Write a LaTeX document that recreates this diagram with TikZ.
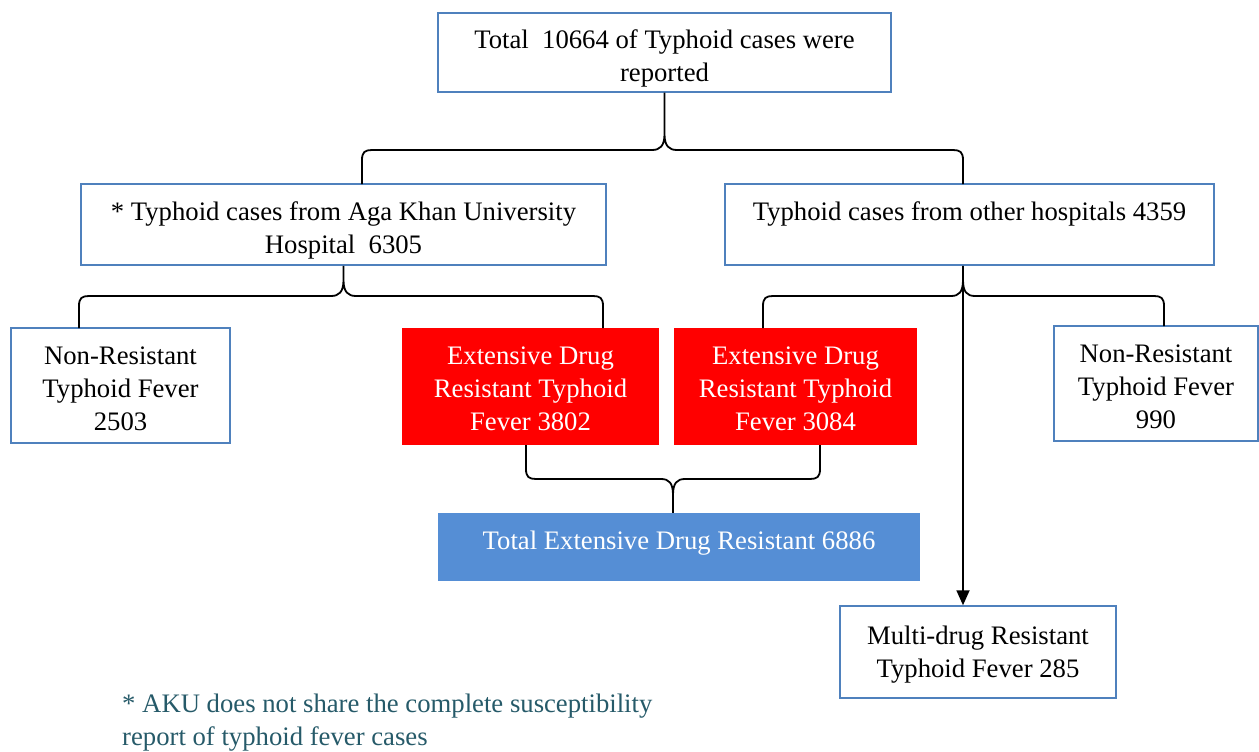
\documentclass[tikz,border=0pt]{standalone}
\usepackage{fontspec}
\setmainfont{Liberation Serif}
\usetikzlibrary{arrows.meta,calc}
\definecolor{bordercol}{RGB}{79,129,189}
\definecolor{edrred}{RGB}{255,0,0}
\definecolor{totblue}{RGB}{85,142,213}
\definecolor{notecol}{RGB}{38,90,105}
\newcommand\lowtxt[2]{\raisebox{-#1}[\height][\depth]{\begin{tabular}{@{}c@{}}#2\end{tabular}}}
\tikzset{
  boxstyle/.style={draw=bordercol, line width=1.5pt, fill=white, inner sep=0pt, align=center,
    font=\fontsize{26.7}{33}\selectfont},
  redbox/.style={fill=edrred, inner sep=0pt, align=center, text=white,
    font=\fontsize{26.7}{33}\selectfont},
  bluebox/.style={fill=totblue, inner sep=0pt, align=center, text=white,
    font=\fontsize{26.7}{33}\selectfont},
  brace/.style={draw=black, line width=1.8pt, line join=round},
  arrowline/.style={draw=black, line width=1.8pt, -{Triangle[width=13pt,length=15pt]}}
}
\begin{document}
\begin{tikzpicture}[x=1pt,y=-1pt]
\useasboundingbox (0,0) rectangle (1259,752);

\node[boxstyle, minimum width=453, minimum height=79] (top) at (664.5,52.5)
  {\lowtxt{6pt}{Total~~10664 of Typhoid cases were\\reported}};
\node[boxstyle, minimum width=525, minimum height=81] (aku) at (343.5,224.5)
  {\lowtxt{6pt}{* Typhoid cases from Aga Khan University\\Hospital~~6305}};
\node[boxstyle, minimum width=489, minimum height=81] (oth) at (969.5,224.5)
  {\lowtxt{-11pt}{Typhoid cases from other hospitals 4359}};
\node[boxstyle, minimum width=219, minimum height=115] (nrl) at (120.5,385.5)
  {\lowtxt{5pt}{Non-Resistant\\Typhoid Fever\\2503}};
\node[redbox, minimum width=257, minimum height=117] (red1) at (530.5,386.5)
  {\lowtxt{4pt}{Extensive Drug\\Resistant Typhoid\\Fever 3802}};
\node[redbox, minimum width=243, minimum height=117] (red2) at (795.5,386.5)
  {\lowtxt{4pt}{Extensive Drug\\Resistant Typhoid\\Fever 3084}};
\node[boxstyle, minimum width=204, minimum height=115] (nrr) at (1156,383.5)
  {\lowtxt{5pt}{Non-Resistant\\Typhoid Fever\\990}};
\node[bluebox, minimum width=482, minimum height=68] (tot) at (679,547)
  {\lowtxt{-4pt}{Total Extensive Drug Resistant 6886}};
\node[boxstyle, minimum width=276, minimum height=92] (mdr) at (978,652)
  {\lowtxt{2pt}{Multi-drug Resistant\\Typhoid Fever 285}};
\node[anchor=north west, inner sep=0pt, align=left, text=notecol,
  font=\fontsize{26.7}{33}\selectfont] (note) at (122,694)
  {* AKU does not share the complete susceptibility\\report of typhoid fever cases};

% brace ends
\coordinate (b1l) at (362,184);
\coordinate (b1r) at (963,184);
\coordinate (b2l) at (79,328);
\coordinate (b2r) at (603,328);
\coordinate (t3) at ($(oth.south)+(-6.5,0)$);
\coordinate (b3l) at (763,328);
\coordinate (b3r) at (1164,326);
\coordinate (b4l) at (526,445);
\coordinate (b4r) at (820,445);
\coordinate (t4) at ($(tot.north)+(-6,0)$);

% top brace
\draw[brace] (b1l) -- (362,160) .. controls (362,152) and (365,150) .. (372,150)
  -- (652,150) .. controls (660,150) and (664.5,146) .. (664.5,134) -- (top.south)
  (664.5,134) .. controls (664.5,146) and (669,150) .. (677,150)
  -- (953,150) .. controls (960,150) and (963,152) .. (963,160) -- (b1r);

% AKU brace
\draw[brace] (b2l) -- (79,306) .. controls (79,298) and (82,296) .. (89,296)
  -- (331,296) .. controls (339,296) and (343.5,292) .. (343.5,280) -- (aku.south)
  (343.5,280) .. controls (343.5,292) and (348,296) .. (356,296)
  -- (593,296) .. controls (600,296) and (603,298) .. (603,306) -- (b2r);

% other hospitals brace
\draw[brace] (b3l) -- (763,306) .. controls (763,298) and (766,296) .. (773,296)
  -- (951,296) .. controls (959,296) and (963,292) .. (963,280) -- (t3)
  (963,280) .. controls (963,292) and (967,296) .. (975,296)
  -- (1154,296) .. controls (1161,296) and (1164,298) .. (1164,306) -- (b3r);

% arrow to MDR
\draw[arrowline] (t3) -- (t3 |- mdr.north);

% bottom brace
\draw[brace] (b4l) -- (526,469) .. controls (526,477) and (529,479) .. (536,479)
  -- (661,479) .. controls (669,479) and (673,483) .. (673,495) -- (t4)
  (673,495) .. controls (673,483) and (677,479) .. (685,479)
  -- (810,479) .. controls (817,479) and (820,477) .. (820,469) -- (b4r);
\end{tikzpicture}
\end{document}
